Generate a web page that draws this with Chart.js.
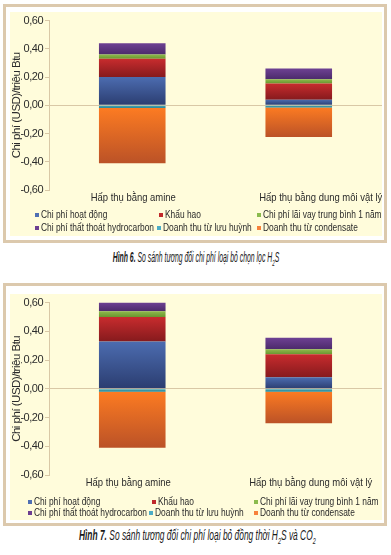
<!DOCTYPE html>
<html lang="vi">
<head>
<meta charset="utf-8">
<script src="https://cdn.jsdelivr.net/npm/chart.js@4.4.1/dist/chart.umd.min.js"></script>
<style>
  html, body { margin: 0; padding: 0; background: #fff; }
  body { width: 391px; height: 555px; position: relative; overflow: hidden;
         font-family: 'Liberation Sans', Arial, sans-serif; }
  .box { position: absolute; left: 3px; width: 378px; border: 3px solid #dcc9ad; background: #fff; }
  .plot { position: absolute; left: 10px; width: 372px; background: #fffcdb; }
  .cap { position: absolute; left: 0; width: 391px; text-align: center; white-space: nowrap; }
  .cap span { display: inline-block; font-style: italic; color: #1a1a1a; transform-origin: 50% 50%; }
  .cap b { font-weight: bold; }
  .cap sub { font-size: 65%; }
</style>
</head>
<body>
<div class="box" style="top:4px;height:233px"></div>
<div class="plot" style="top:12px;height:224px"><canvas id="fig6"></canvas></div>
<div class="cap" style="top:249px;font-size:14px"><span style="transform:scaleX(0.49)"><b>Hình 6.</b> So sánh tương đối chi phí loại bỏ chọn lọc H<sub>2</sub>S</span></div>

<div class="box" style="top:283px;height:237px"></div>
<div class="plot" style="top:294px;height:226px"><canvas id="fig7"></canvas></div>
<div class="cap" style="top:527px;font-size:14px"><span style="transform:scaleX(0.6)"><b>Hình 7.</b> So sánh tương đối chi phí loại bỏ đồng thời H<sub>2</sub>S và CO<sub>2</sub></span></div>

<script>
// hạng mục (trục x)
const categories = ['Hấp thụ bằng amine', 'Hấp thụ bằng dung môi vật lý'];

// tên các chuỗi (thứ tự chồng cột = thứ tự chú thích)
const seriesNames = [
  'Chi phí hoạt động',
  'Khấu hao',
  'Chi phí lãi vay trung bình 1 năm',
  'Chi phí thất thoát hydrocarbon',
  'Doanh thu từ lưu huỳnh',
  'Doanh thu từ condensate',
];

// Hình 6 - loại bỏ chọn lọc H2S (USD/triệu Btu)
const fig6Ops        = [0.20, 0.04];
const fig6Depr       = [0.13, 0.115];
const fig6Interest   = [0.03, 0.03];
const fig6HcLoss     = [0.08, 0.075];
const fig6Sulfur     = [-0.02, -0.015];
const fig6Condensate = [-0.39, -0.21];

// Hình 7 - loại bỏ đồng thời H2S và CO2
const fig7Ops        = [0.33, 0.08];
const fig7Depr       = [0.17, 0.16];
const fig7Interest   = [0.04, 0.035];
const fig7HcLoss     = [0.06, 0.08];
const fig7Sulfur     = [-0.02, -0.02];
const fig7Condensate = [-0.39, -0.22];

const yTicks = { min: -0.6, max: 0.6, step: 0.2 };

// màu: [đỉnh, đáy, chú thích]
const PALETTE = [
  ['#4c6cb0', '#2b3d70', '#4f6fb3'],
  ['#c82c2e', '#861a1d', '#c0282a'],
  ['#8fba4c', '#6a9630', '#8bbb4d'],
  ['#6e4193', '#4c2a6b', '#6c3e91'],
  ['#45abbb', '#2c8595', '#4bacc6'],
  ['#fc7b22', '#bb5227', '#f7813a'],
];

const FONT = "'Liberation Sans', Arial, sans-serif";
const TAN = '#d9c8a6';
const TEXT = '#2b2b2b';

const fmtTick = v => (Math.abs(v) < 1e-9 ? 0 : v).toFixed(2).replace('.', ',');

// gradient theo từng đoạn cột (sáng ở trên, tối ở dưới)
function segmentFill(c) {
  const { chart, datasetIndex, dataIndex } = c;
  const colors = PALETTE[datasetIndex];
  const y = chart.scales.y;
  if (!chart.chartArea || !y) return colors[0];
  const sets = chart.data.datasets;
  const v = sets[datasetIndex].data[dataIndex];
  let base = 0;
  for (let i = 0; i < datasetIndex; i++) {
    const w = sets[i].data[dataIndex];
    if (Math.sign(w) === Math.sign(v)) base += w;
  }
  const y0 = y.getPixelForValue(base);
  const y1 = y.getPixelForValue(base + v);
  const top = Math.min(y0, y1), bot = Math.max(y0, y1);
  if (!isFinite(top) || bot - top < 1) return colors[0];
  const g = chart.ctx.createLinearGradient(0, top, 0, bot);
  g.addColorStop(0, colors[0]);
  g.addColorStop(1, colors[1]);
  return g;
}

// chữ hẹp giống font gốc (Myriad Condensed)
const narrowText = {
  id: 'narrowText',
  beforeLayout(chart) { chart.ctx.letterSpacing = '-0.5px'; },
  beforeDraw(chart) { chart.ctx.letterSpacing = '-0.5px'; },
};

// nhãn hạng mục + chú thích dạng lưới 3 cột x 2 hàng như bản gốc
const gridLegend = {
  id: 'gridLegend',
  afterDraw(chart, args, opts) {
    const ctx = chart.ctx;
    const x = chart.scales.x;
    ctx.save();
    ctx.letterSpacing = '0px';
    ctx.textBaseline = 'middle';
    ctx.fillStyle = TEXT;

    ctx.font = `11px ${FONT}`;
    ctx.textAlign = 'center';
    chart.data.labels.forEach((lab, i) => {
      const px = x.getPixelForValue(i) + opts.labelShift[i];
      ctx.save();
      ctx.scale(0.86, 1);
      ctx.fillText(lab, px / 0.86, chart.chartArea.bottom + opts.labelGap);
      ctx.restore();
    });

    ctx.font = `10.5px ${FONT}`;
    ctx.textAlign = 'left';
    chart.data.datasets.forEach((ds, i) => {
      const row = i < 3 ? 0 : 1;
      const lx = opts.cols[row][i % 3];
      const ly = opts.rows[row];
      ctx.fillStyle = PALETTE[i][2];
      ctx.fillRect(lx, ly - 2, 4, 4);
      ctx.fillStyle = TEXT;
      ctx.save();
      ctx.scale(0.8, 1);
      ctx.fillText(ds.label, (lx + 6) / 0.8, ly);
      ctx.restore();
    });
    ctx.restore();
  },
};

function renderStack(canvasId, series, legendPos) {
  const el = document.getElementById(canvasId);
  return new Chart(el, {
    type: 'bar',
    data: {
      labels: categories,
      datasets: series.map((data, i) => ({
        label: seriesNames[i],
        data,
        backgroundColor: segmentFill,
        borderWidth: 0,
        barPercentage: 0.4,
        categoryPercentage: 1,
      })),
    },
    options: {
      responsive: true,
      maintainAspectRatio: false,
      animation: false,
      layout: { padding: { top: 7, right: 0, left: 0, bottom: legendPos.bottom } },
      scales: {
        x: {
          stacked: true,
          border: { display: false },
          grid: { display: false, drawTicks: false },
          ticks: { display: false },
          afterFit: s => { s.height = 16; },
        },
        y: {
          stacked: true,
          min: yTicks.min,
          max: yTicks.max,
          border: { color: TAN, width: 1 },
          grid: {
            color: c => (c.tick && Math.abs(c.tick.value) < 1e-9 ? TAN : 'transparent'),
            tickColor: TAN,
            tickLength: 4,
          },
          ticks: {
            stepSize: yTicks.step,
            color: TEXT,
            font: { family: FONT, size: 11 },
            padding: 2,
            callback: fmtTick,
          },
          title: {
            display: true,
            text: 'Chi phí (USD)/triệu Btu',
            color: TEXT,
            font: { family: FONT, size: 11.5 },
            padding: { top: 0, bottom: 0 },
          },
          afterFit: s => { s.width = 39; },
        },
      },
      plugins: {
        legend: { display: false },
        tooltip: { enabled: false },
        gridLegend: {
          labelShift: legendPos.labelShift,
          labelGap: legendPos.labelGap,
          cols: legendPos.cols,
          rows: legendPos.rows,
        },
      },
    },
    plugins: [narrowText, gridLegend],
  });
}

renderStack('fig6',
  [fig6Ops, fig6Depr, fig6Interest, fig6HcLoss, fig6Sulfur, fig6Condensate],
  { bottom: 30, labelGap: 8, labelShift: [1, 22], rows: [203, 216], cols: [[25, 149, 247], [25, 147, 247]] });

renderStack('fig7',
  [fig7Ops, fig7Depr, fig7Interest, fig7HcLoss, fig7Sulfur, fig7Condensate],
  { bottom: 29, labelGap: 8, labelShift: [-4, 12], rows: [208, 219], cols: [[18, 142, 244], [18, 139, 244]] });
</script>
</body>
</html>
